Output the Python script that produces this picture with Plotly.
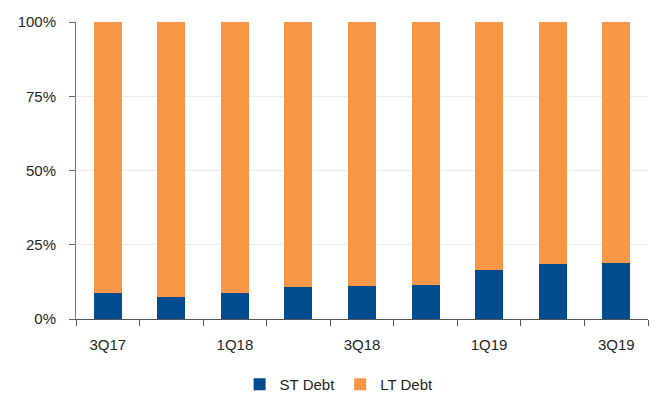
import plotly.graph_objects as go

quarters = ["3Q17", "4Q17", "1Q18", "2Q18", "3Q18", "4Q18", "1Q19", "2Q19", "3Q19"]
tick_labels = ["3Q17", "", "1Q18", "", "3Q18", "", "1Q19", "", "3Q19"]
st_debt = [8.9, 7.5, 8.9, 10.7, 11.1, 11.5, 16.5, 18.4, 18.9]
lt_debt = [100 - v for v in st_debt]

fig = go.Figure()
fig.add_trace(go.Bar(x=quarters, y=st_debt, name="ST Debt", marker_color="#004C8F",
                     marker_line_width=0))
fig.add_trace(go.Bar(x=quarters, y=lt_debt, name="LT Debt", marker_color="#F79646",
                     marker_line_width=0))

fig.update_layout(
    barmode="stack",
    bargap=0.56,
    width=659, height=398,
    margin=dict(l=76, r=11, t=22, b=79, autoexpand=False),
    plot_bgcolor="white", paper_bgcolor="white",
    font=dict(family="Liberation Sans, Arial, sans-serif", size=15, color="#262626"),
    showlegend=True,
    legend=dict(orientation="h", x=0.286, xanchor="left", y=-0.165, yanchor="top",
                font=dict(size=15), itemwidth=30, traceorder="normal"),
)
fig.update_xaxes(
    type="category", tickmode="array", tickvals=quarters, ticktext=tick_labels,
    tickson="boundaries", ticks="outside", ticklen=6, tickcolor="#555555",
    showline=True, linecolor="#555555", linewidth=1, showgrid=False,
    tickfont=dict(size=15), ticklabelstandoff=12,
)
fig.update_yaxes(
    range=[0, 100], tickvals=[0, 25, 50, 75, 100],
    ticktext=["0%", "25%", "50%", "75%", "100%"],
    ticks="outside", ticklen=6, tickcolor="#666666",
    showline=True, linecolor="#777777", linewidth=1,
    showgrid=True, gridcolor="#EDEDED", gridwidth=1, zeroline=False,
    tickfont=dict(size=15), ticklabelstandoff=10,
)

fig.write_html("out.html")
